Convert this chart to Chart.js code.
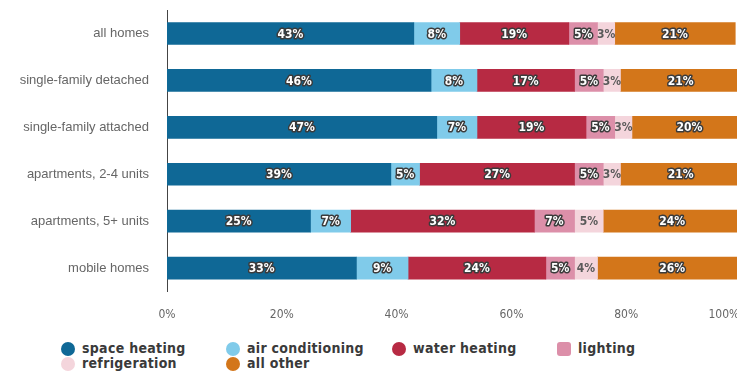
<!DOCTYPE html>
<html>
<head>
<meta charset="utf-8">
<script src="https://cdn.jsdelivr.net/npm/chart.js@4/dist/chart.umd.min.js"></script>
<style>
  html, body { margin: 0; padding: 0; background: #fff; overflow: hidden; }
  #wrap { position: relative; width: 742px; height: 375px; }
  #chartBox { position: absolute; left: 0; top: 0; width: 742px; height: 338px; }
  #legend { position: absolute; left: 0; top: 340px; width: 737px; height: 35px;
            font-family: "DejaVu Sans Condensed", "Liberation Sans", sans-serif;
            font-weight: bold; font-size: 14px; letter-spacing: 0.3px; color: #3a3a3a; }
  .item { position: absolute; height: 15px; line-height: 15px; white-space: nowrap; }
  .dot { position: absolute; left: 0; top: 1px; width: 14px; height: 14px; border-radius: 50%; }
  .txt { position: absolute; left: 21px; top: 0; }
</style>
</head>
<body>
<div id="wrap">
  <div id="chartBox"><canvas id="useChart"></canvas></div>
  <div id="legend"></div>
</div>
<script>
document.addEventListener('DOMContentLoaded', function () {
    // home types, top to bottom
    const categories = ['all homes', 'single-family detached', 'single-family attached',
                        'apartments, 2-4 units', 'apartments, 5+ units', 'mobile homes'];

    // share of household energy use by end use (%)
    const spaceHeating    = [43, 46, 47, 39, 25, 33];
    const airConditioning = [8, 8, 7, 5, 7, 9];
    const waterHeating    = [19, 17, 19, 27, 32, 24];
    const lighting        = [5, 5, 5, 5, 7, 5];
    const refrigeration   = [3, 3, 3, 3, 5, 4];
    const allOther        = [21, 21, 20, 21, 24, 26];

    const xTicks = [0, 20, 40, 60, 80, 100];

    const series = [
        { label: 'space heating',    data: spaceHeating,    color: '#0f6896' },
        { label: 'air conditioning', data: airConditioning, color: '#80cbea' },
        { label: 'water heating',    data: waterHeating,    color: '#b72a43' },
        { label: 'lighting',         data: lighting,        color: '#dc8fa9' },
        { label: 'refrigeration',    data: refrigeration,   color: '#f4d5dc' },
        { label: 'all other',        data: allOther,        color: '#d3761a' }
    ];

    const font = '"DejaVu Sans Condensed", "Liberation Sans", sans-serif';

    // percentage labels inside each segment
    const segmentLabels = {
        id: 'segmentLabels',
        afterDatasetsDraw(chart) {
            const ctx = chart.ctx;
            ctx.save();
            ctx.font = 'bold 12px ' + font;
            ctx.textAlign = 'center';
            ctx.textBaseline = 'middle';
            ctx.lineJoin = 'round';
            chart.data.datasets.forEach((ds, i) => {
                chart.getDatasetMeta(i).data.forEach((bar, j) => {
                    const text = ds.data[j] + '%';
                    const x = (bar.x + bar.base) / 2;
                    const y = bar.y + 1;
                    if (ds.label === 'refrigeration') {
                        ctx.fillStyle = '#5a5a5a';
                        ctx.fillText(text, x, y);
                    } else {
                        ctx.lineWidth = 3;
                        ctx.strokeStyle = '#3b3b3b';
                        ctx.strokeText(text, x, y);
                        ctx.fillStyle = '#ffffff';
                        ctx.fillText(text, x, y);
                    }
                });
            });
            ctx.restore();
        }
    };

    const ctx = document.getElementById('useChart').getContext('2d');
    new Chart(ctx, {
        type: 'bar',
        data: {
            labels: categories,
            datasets: series.map(s => ({
                label: s.label,
                data: s.data,
                backgroundColor: s.color,
                borderWidth: 0,
                barThickness: 22
            }))
        },
        options: {
            indexAxis: 'y',
            responsive: true,
            maintainAspectRatio: false,
            animation: false,
            layout: { padding: { top: 10, right: 1, left: 0, bottom: 0 } },
            plugins: {
                legend: { display: false },
                tooltip: { enabled: false }
            },
            scales: {
                x: {
                    stacked: true,
                    min: 0,
                    max: 100,
                    grid: { display: false, drawTicks: false },
                    border: { display: false },
                    afterBuildTicks: scale => { scale.ticks = xTicks.map(v => ({ value: v })); },
                    afterFit: scale => { scale.paddingRight = 0; },
                    ticks: {
                        padding: 16,
                        color: '#666',
                        font: { family: font, size: 12 },
                        // trailing spaces pull the last label back inside the page
                        callback: v => v === 100 ? '100%' + '\u00a0'.repeat(10) : v + '%'
                    }
                },
                y: {
                    stacked: true,
                    grid: { display: false, drawTicks: false },
                    border: { display: true, color: '#444', width: 1 },
                    afterFit: scale => {
                        scale.width = 167;
                        scale.paddingTop = 0;
                        scale.paddingBottom = 0;
                    },
                    ticks: {
                        padding: 18,
                        color: '#666',
                        font: { family: '"Liberation Sans", sans-serif', size: 13 }
                    }
                }
            }
        },
        plugins: [segmentLabels]
    });

    // legend laid out in four columns, two rows
    const slots = [[61, 1], [226, 1], [392, 1], [557, 1], [61, 16], [226, 16]];
    const legend = document.getElementById('legend');
    series.forEach((s, i) => {
        const item = document.createElement('div');
        item.className = 'item';
        item.style.left = slots[i][0] + 'px';
        item.style.top = slots[i][1] + 'px';
        const radius = s.label === 'lighting' ? '3px' : '50%';
        item.innerHTML = '<span class="dot" style="background:' + s.color + ';border-radius:' + radius +
                         '"></span><span class="txt">' + s.label + '</span>';
        legend.appendChild(item);
    });
});
</script>
</body>
</html>
